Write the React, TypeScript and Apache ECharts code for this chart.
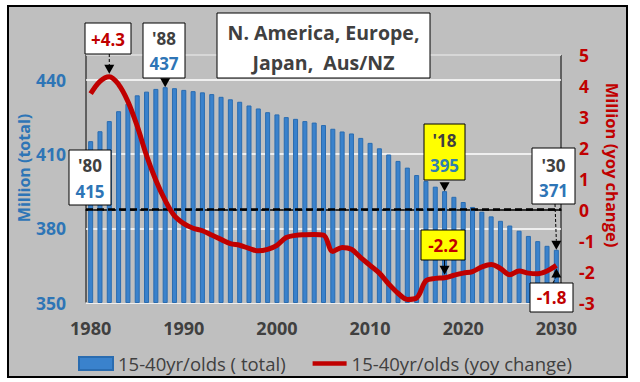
import React, { useEffect, useRef } from "react";
import * as echarts from "echarts";

const years: string[] = [];
for (let y = 1980; y <= 2030; y++) years.push(String(y));

// 15-40yr/olds total (million)
const totals = [
  415.2, 419.2, 423.3, 427.3, 430.3, 433.7, 435.2, 436.3, 437.0, 436.6,
  435.9, 435.4, 434.9, 434.2, 433.1, 432.1, 431.1, 429.6, 428.4, 426.9,
  426.0, 424.9, 424.2, 423.3, 422.7, 421.7, 420.2, 419.1, 418.3, 416.5,
  414.5, 412.3, 409.8, 407.2, 404.5, 401.5, 399.1, 396.8, 395.0, 392.7,
  390.6, 388.6, 386.7, 384.8, 383.0, 381.1, 379.0, 376.9, 374.8, 372.9,
  371.3,
];

// 15-40yr/olds yoy change (million)
const yoy = [
  3.75, 4.15, 4.3, 4.05, 3.5, 2.7, 1.75, 0.95, 0.3, -0.2,
  -0.45, -0.6, -0.68, -0.82, -0.96, -1.1, -1.15, -1.25, -1.33, -1.28,
  -1.15, -0.9, -0.83, -0.81, -0.8, -0.82, -1.35, -1.22, -1.28, -1.55,
  -1.8, -2.05, -2.4, -2.7, -2.9, -2.85, -2.3, -2.22, -2.2, -2.12,
  -2.05, -2.0, -1.85, -1.77, -1.9, -2.1, -1.98, -2.05, -2.07, -1.98,
  -1.8,
];

const seriesNames = ["15-40yr/olds ( total)", "15-40yr/olds (yoy change)"];
const titleLines = ["N. America, Europe,", "Japan,  Aus/NZ"];
const leftAxisName = "Million (total)";
const rightAxisName = "Million (yoy change)";

const FONT = "'Open Sans', Lato, sans-serif";
const GRAY = "#404040";
const BLUE = "#2e75b6";
const RED = "#c00000";

export default function App() {
  const ref = useRef<HTMLDivElement>(null);

  useEffect(() => {
    if (!ref.current) return;
    const chart = echarts.init(ref.current, null, { renderer: "svg" });
    chart.setOption({
      animation: false,
      textStyle: { fontFamily: FONT },
      grid: {
        left: 86,
        top: 55,
        width: 475,
        height: 247.5,
        show: true,
        borderColor: "#000",
        borderWidth: 1,
        backgroundColor: "transparent",
      },
      legend: {
        left: 73,
        top: 349,
        itemWidth: 34,
        itemHeight: 13,
        itemGap: 27,
        textStyle: { fontFamily: FONT, fontSize: 18.5, color: GRAY },
        data: [
          { name: seriesNames[0], icon: "rect" },
          { name: seriesNames[1], icon: "path://M0,0 L34,0 L34,4.5 L0,4.5 Z" },
        ],
      },
      xAxis: {
        type: "category",
        data: years,
        boundaryGap: true,
        axisTick: { show: false },
        axisLine: { lineStyle: { color: "#000", width: 1.5 } },
        axisLabel: {
          interval: (i: number, v: string) => Number(v) % 10 === 0,
          color: GRAY,
          fontWeight: "bold",
          fontSize: 18,
          fontFamily: FONT,
          margin: 16,
        },
      },
      yAxis: [
        {
          type: "value",
          min: 350,
          max: 450,
          interval: 30,
          position: "left",
          axisLine: { show: false },
          axisTick: { show: false },
          axisLabel: {
            color: BLUE,
            fontWeight: "bold",
            fontSize: 17.5,
            fontFamily: FONT,
            margin: 20,
            showMaxLabel: false,
          },
          splitLine: { lineStyle: { color: "#ffffff", width: 1.5 } },
        },
        {
          type: "value",
          min: -3,
          max: 5,
          interval: 1,
          position: "right",
          axisLine: { show: false },
          axisTick: { show: false },
          axisLabel: {
            color: RED,
            fontWeight: "bold",
            fontSize: 17.5,
            fontFamily: FONT,
            margin: 18,
          },
          splitLine: { show: false },
        },
      ],
      series: [
        {
          name: seriesNames[0],
          type: "bar",
          data: totals,
          barWidth: 5,
          itemStyle: { color: "#3a82cc", borderColor: "#2a6cb0", borderWidth: 1 },
          z: 2,
        },
        {
          name: seriesNames[1],
          type: "line",
          yAxisIndex: 1,
          data: yoy,
          smooth: 0.35,
          symbol: "none",
          lineStyle: { color: RED, width: 5 },
          itemStyle: { color: RED },
          z: 5,
          markLine: {
            silent: true,
            symbol: "none",
            label: { show: false },
            lineStyle: { color: "#000", type: [7, 4], width: 2.5, opacity: 1 },
            data: [{ yAxis: 0 }],
          },
        },
      ],
    });

    const barPt = (i: number) => chart.convertToPixel({ seriesIndex: 0 }, [i, totals[i]]) as number[];
    const linePt = (i: number) => chart.convertToPixel({ seriesIndex: 1 }, [i, yoy[i]]) as number[];

    const box = (x: number, y: number, w: number, h: number, fill: string) => ({
      type: "rect",
      shape: { x, y, width: w, height: h },
      style: { fill, stroke: "#000", lineWidth: 1 },
      z: 100,
    });
    const txt = (x: number, y: number, text: string, color: string, size = 17) => ({
      type: "text",
      x,
      y,
      style: {
        text,
        fill: color,
        font: `bold ${size}px ${FONT}`,
        textAlign: "center",
        textVerticalAlign: "middle",
      },
      z: 101,
    });
    const downTri = (x: number, tip: number) => ({
      type: "polygon",
      shape: { points: [[x - 5, tip - 9], [x + 5, tip - 9], [x, tip]] },
      style: { fill: "#000" },
      z: 101,
    });
    const upTri = (x: number, tip: number) => ({
      type: "polygon",
      shape: { points: [[x - 5, tip + 9], [x + 5, tip + 9], [x, tip]] },
      style: { fill: "#000" },
      z: 101,
    });
    const vline = (x1: number, y1: number, x2: number, y2: number, dashed: boolean) => ({
      type: "line",
      shape: { x1, y1, x2, y2 },
      style: { stroke: "#000", lineWidth: 1, lineDash: dashed ? [3, 2] : null },
      z: 101,
    });

    const p82 = linePt(2);
    const b88 = barPt(8);
    const b18 = barPt(38);
    const b30 = barPt(50);
    const l18 = linePt(38);
    const l30 = linePt(50);

    const graphics: any[] = [
      // title
      box(217, 13, 213, 65, "#ffffff"),
      txt(323.5, 32, titleLines[0], GRAY, 19.5),
      txt(323.5, 62, titleLines[1], GRAY, 19.5),
      // +4.3
      box(85, 23, 46, 31, "#ffffff"),
      txt(108, 39, "+4.3", RED),
      vline(p82[0], 54, p82[0], p82[1] - 11, true),
      downTri(p82[0], p82[1] - 3),
      // '88
      box(143, 23, 42, 55, "#ffffff"),
      txt(164, 38, "'88", GRAY),
      txt(164, 63, "437", BLUE),
      downTri(b88[0], b88[1]),
      // '80
      box(69, 150, 42, 55, "#ffffff"),
      txt(90, 165.5, "'80", GRAY),
      txt(90, 191, "415", BLUE),
      // '18
      box(424, 124, 41, 56, "#ffff00"),
      txt(444.5, 140, "'18", GRAY),
      txt(444.5, 165, "395", "#2e7fb0"),
      downTri(b18[0], b18[1]),
      // '30
      box(532, 148, 43, 56, "#ffffff"),
      txt(553.5, 165, "'30", GRAY),
      txt(553.5, 190, "371", BLUE),
      vline(555, 204, b30[0], b30[1] - 9, true),
      downTri(b30[0], b30[1]),
      // -2.2
      box(421, 230, 44, 30, "#ffff00"),
      txt(443, 245.5, "-2.2", RED),
      vline(l18[0], 260, l18[0], l18[1] - 11, false),
      downTri(l18[0], l18[1] - 3),
      // -1.8
      box(530, 283, 43, 29, "#ffffff"),
      txt(551.5, 297.5, "-1.8", RED),
      vline(553, 283, l30[0], l30[1] + 11, true),
      upTri(l30[0], l30[1] + 3),
      // axis names
      {
        type: "text",
        x: 24,
        y: 168,
        rotation: Math.PI / 2,
        style: {
          text: leftAxisName,
          fill: BLUE,
          font: `bold 16px ${FONT}`,
          textAlign: "center",
          textVerticalAlign: "middle",
        },
        z: 101,
      },
      {
        type: "text",
        x: 612,
        y: 165,
        rotation: -Math.PI / 2,
        style: {
          text: rightAxisName,
          fill: RED,
          font: `bold 16.5px ${FONT}`,
          textAlign: "center",
          textVerticalAlign: "middle",
        },
        z: 101,
      },
    ];
    chart.setOption({ graphic: graphics });

    return () => chart.dispose();
  }, []);

  return (
    <div style={{ position: "absolute", left: 0, top: 0, width: 640, height: 382, background: "#ffffff" }}>
      <div
        style={{
          position: "absolute",
          left: 7,
          top: 5,
          width: 621,
          height: 373,
          boxSizing: "border-box",
          border: "2px solid #000",
          background: "#bfbfbf",
        }}
      />
      <div ref={ref} style={{ position: "absolute", left: 0, top: 0, width: 640, height: 382 }} />
    </div>
  );
}
